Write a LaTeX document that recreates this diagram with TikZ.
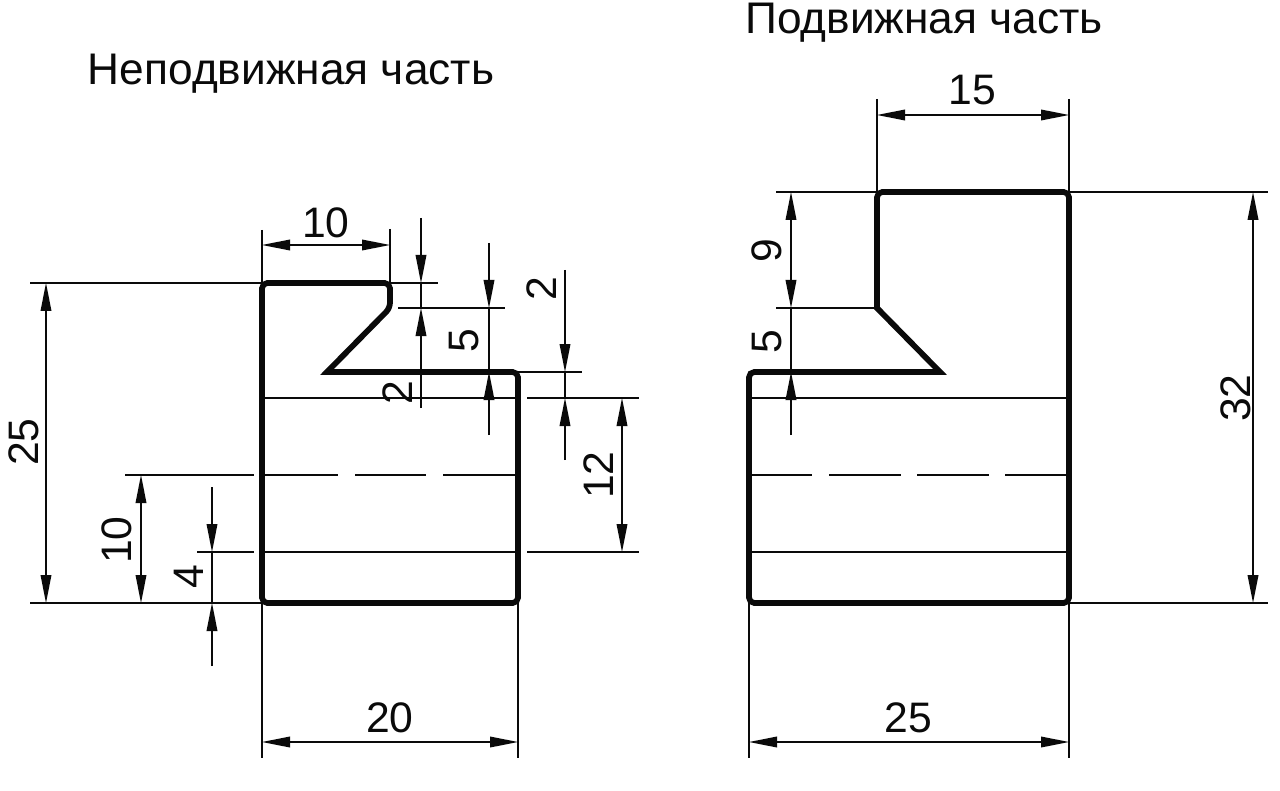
\documentclass[tikz,border=0pt]{standalone}
\usepackage{fontspec}
\setmainfont{Liberation Sans}
\usetikzlibrary{arrows.meta}
\definecolor{ink}{HTML}{0A0A0A}
\tikzset{
  part/.style={draw=ink, line width=4.3pt, line join=miter, miter limit=10},
  thin/.style={draw=ink, line width=1.05pt},
  dim/.style={thin, {Triangle[length=21pt,width=8pt]}-{Triangle[length=21pt,width=8pt]}},
  lead/.style={thin, -{Triangle[length=21pt,width=8pt]}},
  num/.style={text=ink, font=\fontsize{32}{32}\selectfont, inner sep=0pt},
  numv/.style={num, rotate=90},
  title/.style={text=ink, font=\fontsize{33.2}{33.2}\selectfont, inner sep=0pt},
}
\begin{document}
\begin{tikzpicture}[x=0.75pt,y=-0.75pt]
  \useasboundingbox (0,0) rectangle (1280,791);
  % titles
  \node[title] (titleL) at (291,74) {Неподвижная часть};
  \node[title] (titleR) at (924,23) {Подвижная часть};

  % left part
  \draw[thin] (262,398)--(518,398) (262,552)--(518,552);
  \draw[thin] (262,475)--(338,475) (355,475)--(426,475) (443,475)--(518,475);
  \draw[part,rounded corners=4pt] (262,443)--(262,283)--(390,283)--(390,308)
    [sharp corners]--(327,372)--(420,372)
    [rounded corners=4pt]--(518,372)--(518,603)--(262,603)--cycle;
  \draw[thin] (262,230)--(262,283) (390,229)--(390,283);
  \draw[thin] (30,283)--(262,283) (30,603)--(262,603);
  \draw[thin] (390,283)--(438,283) (398,308)--(505,308) (518,372)--(582,372);
  \draw[thin] (527,398)--(639,398) (527,552)--(639,552);
  \draw[thin] (125,475)--(254,475) (197,552)--(254,552);
  \draw[thin] (262,603)--(262,758) (518,603)--(518,758);
  \draw[dim] (262,245)--(390,245);
  \draw[dim] (46,283)--(46,603);
  \draw[dim] (141,475)--(141,603);
  \draw[dim] (622,398)--(622,552);
  \draw[dim] (262,742)--(518,742);
  \draw[lead] (421,218)--(421,283);
  \draw[lead] (421,408)--(421,308);
  \draw[lead] (489,243)--(489,308);
  \draw[lead] (489,435)--(489,372);
  \draw[thin] (489,308)--(489,372);
  \draw[lead] (565,270)--(565,372);
  \draw[lead] (565,460)--(565,398);
  \draw[lead] (212,487)--(212,552);
  \draw[lead] (212,666)--(212,603);
  \draw[thin] (421,283)--(421,308) (565,372)--(565,398) (212,552)--(212,603);
  \node[num] (d10a) at (326,223) {10};
  \node[num] (d20) at (390,718) {20};
  \node[numv] (d25a) at (24,442) {25};
  \node[numv] (d10b) at (117,540) {10};
  \node[numv] (d4) at (189,577) {4};
  \node[numv] (d2a) at (398,393) {2};
  \node[numv] (d5a) at (464,341) {5};
  \node[numv] (d2b) at (542,289) {2};
  \node[numv] (d12) at (599,475) {12};

  % right part
  \draw[thin] (749,398)--(1069,398) (749,552)--(1069,552);
  \draw[thin] (749,475)--(812,475) (829,475)--(901,475) (917,475)--(989,475) (1005,475)--(1069,475);
  \draw[part,rounded corners=4pt] (877,250)--(877,192)--(1069,192)--(1069,603)--(749,603)--(749,372)
    --(850,372) [sharp corners]--(940,372)--(877,308)--(877,250);
  \draw[thin] (877,99)--(877,192) (1069,99)--(1069,192);
  \draw[thin] (776,192)--(877,192) (776,308)--(875,308);
  \draw[thin] (1069,192)--(1268,192) (1069,603)--(1268,603);
  \draw[thin] (749,603)--(749,758) (1069,603)--(1069,758);
  \draw[dim] (877,115)--(1069,115);
  \draw[dim] (791,192)--(791,308);
  \draw[lead] (791,435)--(791,372);
  \draw[thin] (791,308)--(791,372);
  \draw[dim] (1253,192)--(1253,603);
  \draw[dim] (749,742)--(1069,742);
  \node[num] (d15) at (972,90) {15};
  \node[num] (d25b) at (908,718) {25};
  \node[numv] (d9) at (767,251) {9};
  \node[numv] (d5b) at (767,342) {5};
  \node[numv] (d32) at (1236,398) {32};
\end{tikzpicture}
\end{document}
